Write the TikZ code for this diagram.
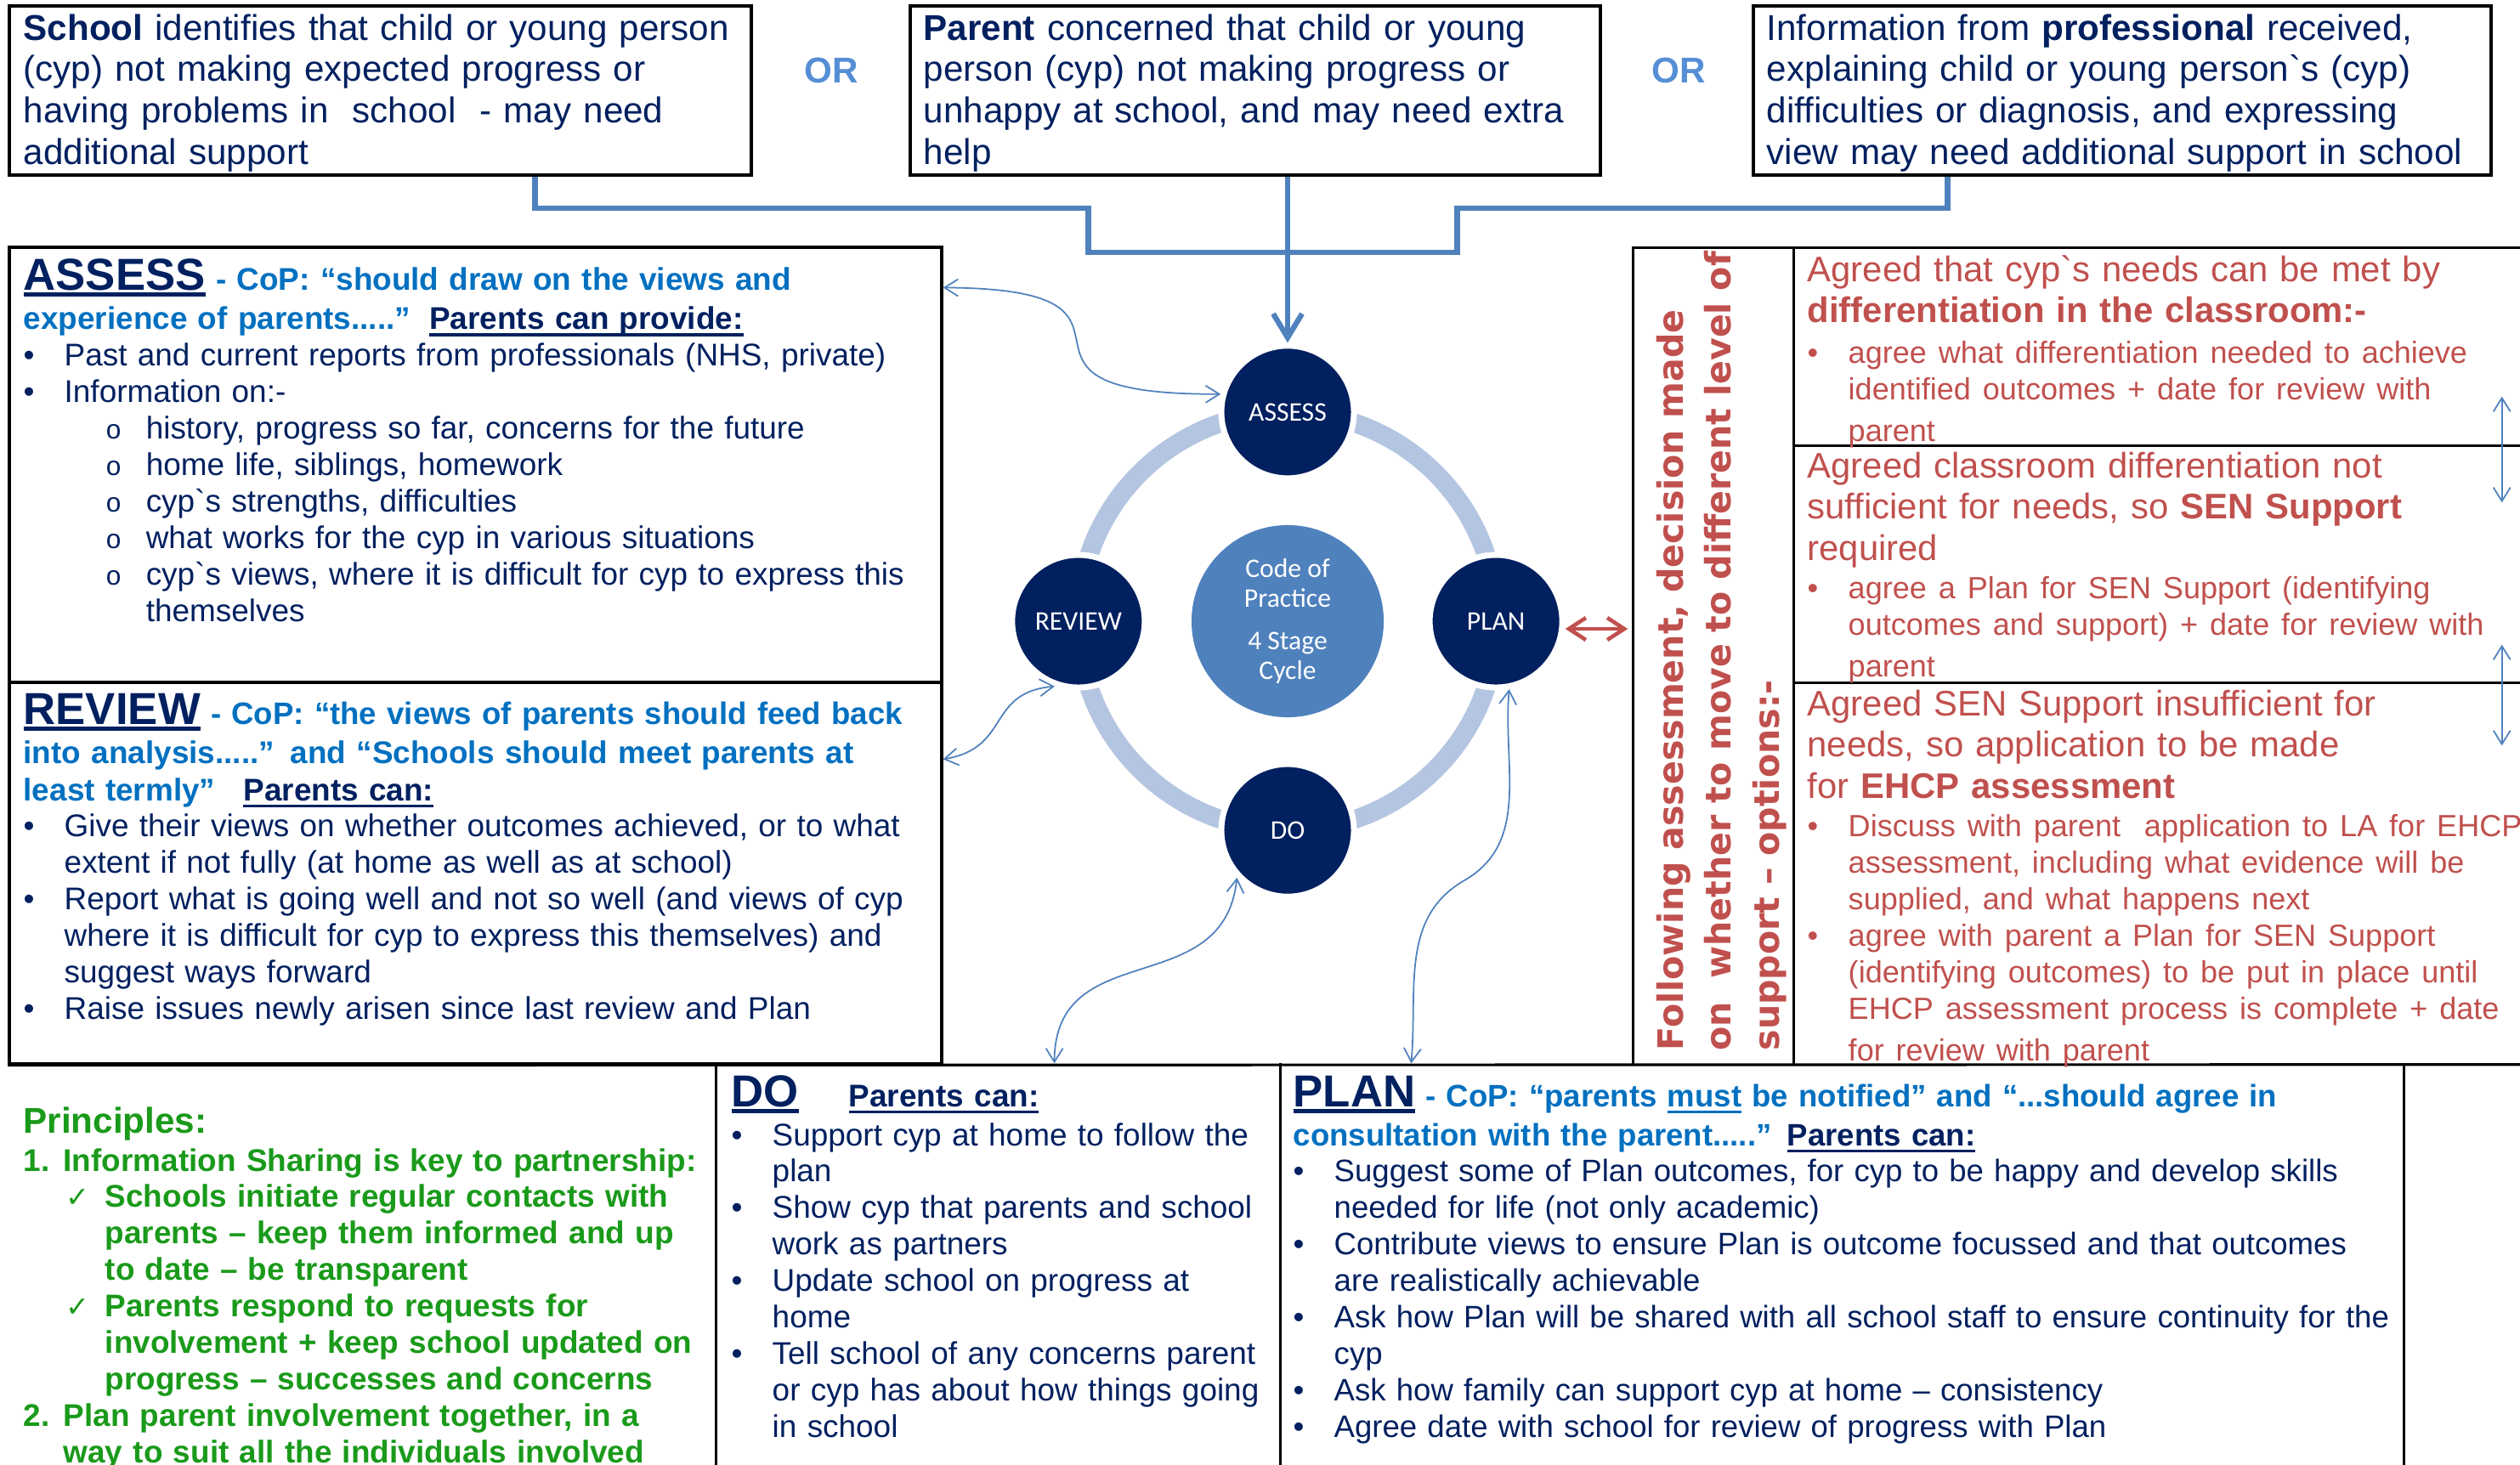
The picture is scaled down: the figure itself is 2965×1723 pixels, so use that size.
\documentclass[tikz,border=0pt]{standalone}
\usepackage{fontspec}
\setmainfont{Liberation Sans}
\newfontfamily\stagefont{Carlito}
\newfontfamily\sidefont{DejaVu Sans}
\usetikzlibrary{arrows.meta,fit}

\definecolor{navy}{HTML}{002060}
\definecolor{copblue}{HTML}{0070C0}
\definecolor{linkblue}{HTML}{4F81BD}
\definecolor{ringblue}{HTML}{B4C5E1}
\definecolor{optred}{HTML}{C0504D}
\definecolor{prgreen}{HTML}{1A9A1A}
\definecolor{orblue}{HTML}{558ED5}

\newcommand{\topsize}{\fontsize{12}{13.9}\selectfont}
\newcommand{\optsize}{\fontsize{11.9}{13.9}\selectfont}
\newcommand{\bodysize}{\fontsize{10.5}{12.2}\selectfont}
\newcommand{\plansize}{\fontsize{10.4}{12.2}\selectfont}
\newcommand{\optbodysize}{\fontsize{10.25}{12.2}\selectfont}
\newcommand{\headsize}{\fontsize{15}{15}\selectfont}
\newcommand{\bq}{\textasciigrave}
\newcommand{\undl}[2][0.9pt]{\setbox0\hbox{#2}\rlap{\rule[-2.2pt]{\wd0}{#1}}\box0\relax}
\newcommand{\bul}{\makebox[0.48cm][l]{•}}
\newcommand{\contline}{\hspace*{0.48cm}}
\newcommand{\subul}{\hspace*{0.97cm}\makebox[0.47cm][l]{\fontsize{9}{9}\selectfont o}}
\newcommand{\tick}{\hspace*{0.5cm}\makebox[0.46cm][l]{\sidefont\fontsize{9.5}{9.5}\selectfont ✓}}

\tikzset{
  frame/.style={draw=black, line width=0.9pt, inner sep=0pt},
  region/.style={inner sep=0pt},
  divider/.style={line width=0.9pt},
  txt/.style={anchor=base west, inner sep=0pt, align=left, text width=#1},
  txt/.default=10cm,
  ortext/.style={text=orblue, font=\bfseries\fontsize{12}{14}\selectfont},
  cop/.style={circle, fill=linkblue, minimum size=2.26cm, inner sep=0pt,
    align=center, text=white, font=\stagefont\fontsize{9}{10}\selectfont},
  stage/.style={circle, fill=navy, draw=white, line width=2pt, minimum size=1.56cm,
    inner sep=0pt, text=white, font=\stagefont\fontsize{9}{10}\selectfont},
  ring/.style={draw=ringblue, line width=6.3pt},
  feed/.style={draw=linkblue, line width=1.8pt},
  feedarrow/.style={feed, -{Straight Barb[length=2.8mm,width=3.4mm]}},
  link/.style={draw=linkblue, line width=0.5pt, <->, >={Straight Barb[length=1.6mm,width=2mm]}},
  redlink/.style={draw=optred, line width=1.3pt, <->, >={Straight Barb[length=2mm,width=2.6mm]}}
}

\begin{document}
\begin{tikzpicture}[x=0.01cm, y=-0.01cm]
  \useasboundingbox (0,0) rectangle (2965,1723);
  % starting points
  \node[frame, line width=1pt, fit={(11,7) (884,206)}] (schoolbox) {};
  \node[frame, line width=1pt, fit={(1071,7) (1883,206)}] (parentbox) {};
  \node[frame, line width=1pt, fit={(2063,7) (2931,206)}] (profbox) {};
  \node[txt, text=navy, font=\topsize] (schooltext) at (27,47)
    {\textbf{School} identifies that child or young person\\
     (cyp) not making expected progress or\\
     having problems in\ \ school\ \ - may need\\
     additional support};
  \node[txt, text=navy, font=\topsize] (parenttext) at (1086,47)
    {\textbf{Parent} concerned that child or young\\
     person (cyp) not making progress or\\
     unhappy at school, and may need extra\\
     help};
  \node[txt, text=navy, font=\topsize] (proftext) at (2078,47)
    {Information from \textbf{professional} received,\\
     explaining child or young person\bq s (cyp)\\
     difficulties or diagnosis, and expressing\\
     view may need additional support in school};
  \node[ortext] (or1) at (978,83) {OR};
  \node[ortext] (or2) at (1975,83) {OR};

  % regions
  \node[frame, fit={(11,291) (1108,803)}] (assessbox) {};
  \node[frame, fit={(11,803) (1108,1252)}] (reviewbox) {};
  \node[region, fit={(1922,292) (2965,1252)}] (optbox) {};
  \node[region, fit={(2111,292) (2965,524)}] (opt1) {};
  \node[region, fit={(2111,524) (2965,803)}] (opt2) {};
  \node[region, fit={(2111,803) (2965,1252)}] (opt3) {};
  \node[region, fit={(843,1252) (1506,1723)}] (dobox) {};
  \node[region, fit={(1506,1252) (2828,1723)}] (planbox) {};
  % frame lines
  \draw[divider] (optbox.north east) -- (optbox.north west) -- (optbox.south west);
  \draw[divider] (opt1.north west) -- (opt3.south west);
  \draw[divider] (opt1.south west) -- (opt1.south east);
  \draw[divider] (opt2.south west) -- (opt2.south east);
  \draw[divider] (reviewbox.south west) -- (optbox.south east);
  \draw[divider] (dobox.north west) -- (dobox.south west);
  \draw[divider] (dobox.north east) -- (dobox.south east);
  \draw[divider] (planbox.north east) -- (planbox.south east);

  % the cycle
  \node[cop] (cop) at (1515,731) {Code of\\Practice\\[4.2pt]4 Stage\\Cycle};
  \draw[ring] (cop.center) circle (2.46cm);
  \node[stage] (assessstep) at ([yshift=2.46cm]cop.center) {ASSESS};
  \node[stage] (planstep) at ([xshift=2.45cm]cop.center) {PLAN};
  \node[stage] (reviewstep) at ([xshift=-2.46cm]cop.center) {REVIEW};
  \node[stage] (dostep) at ([yshift=-2.46cm]cop.center) {DO};

  % inflow to ASSESS
  \draw[feed] ([xshift=6.2cm]schoolbox.south west) |- ++(651,37) |- ++(434,52)
        -- ++(0,-52) -| ([xshift=2.3cm]profbox.south west);
  \draw[feedarrow] (parentbox.south -| assessstep.north) -- (assessstep.north);

  % links between text and cycle
  \draw[link] ([yshift=-0.49cm]assessbox.north east)
        .. controls (1400,340) and (1130,465) .. (assessstep.165);
  \draw[link] ([yshift=-0.92cm]reviewbox.north east)
        .. controls (1190,880) and (1160,815) .. (reviewstep.250);
  \draw[link] ([xshift=3.98cm]dobox.north west)
        .. controls (1241,1100) and (1440,1180) .. (dostep.223);
  \coordinate (planbend) at (1723,1036);
  \draw[link] ([xshift=1.55cm]planbox.north west) to[out=85,in=-150] (planbend)
        to[out=30,in=-95] (planstep.281);
  \coordinate (planout) at ([yshift=-0.09cm]planstep.east);
  \draw[redlink, shorten >=0.06cm] (planout) -- (planout -| optbox.west);
  \draw[link] ([xshift=-0.22cm,yshift=0.58cm]opt1.south east)
        -- ([xshift=-0.22cm,yshift=-0.68cm]opt2.north east);
  \draw[link] ([xshift=-0.22cm,yshift=0.45cm]opt2.south east)
        -- ([xshift=-0.22cm,yshift=-0.75cm]opt3.north east);

  % ASSESS text
  \node[txt=10.9cm, text=navy, font=\bodysize] (assesstext) at (27,341)
    {\undl[1.4pt]{\headsize\bfseries ASSESS} {\bfseries\color{copblue}- CoP: “should draw on the views and}\\[1.1pt]
     {\bfseries\color{copblue}experience of parents.....”}\hspace{0.22cm}\undl{\bfseries Parents can provide:}\\
     \bul Past and current reports from professionals (NHS, private)\\
     \bul Information on:-\\
     \subul history, progress so far, concerns for the future\\
     \subul home life, siblings, homework\\
     \subul cyp\bq s strengths, difficulties\\
     \subul what works for the cyp in various situations\\
     \subul cyp\bq s views, where it is difficult for cyp to express this\\
     \hspace*{1.44cm}themselves};
  % REVIEW text
  \node[txt=10.9cm, text=navy, font=\bodysize] (reviewtext) at (27,852)
    {\undl[1.4pt]{\headsize\bfseries REVIEW} {\bfseries\color{copblue}\fontsize{10.4}{12.2}\selectfont- CoP: “the views of parents should feed back}\\[0.9pt]
     {\bfseries\color{copblue}into analysis.....” and “Schools should meet parents at}\\[0.3pt]
     {\bfseries\color{copblue}least termly”}\hspace{0.33cm}\undl{\bfseries Parents can:}\\
     \bul Give their views on whether outcomes achieved, or to what\\
     \contline extent if not fully (at home as well as at school)\\
     \bul Report what is going well and not so well (and views of cyp\\
     \contline where it is difficult for cyp to express this themselves) and\\
     \contline suggest ways forward\\
     \bul Raise issues newly arisen since last review and Plan};
  % principles
  \node[txt=9cm, text=prgreen, font=\bfseries\fontsize{10.5}{12.2}\selectfont] (principles) at (27,1333)
    {{\fontsize{12}{12}\selectfont Principles:}\\[0.6pt]
     \makebox[0.47cm][l]{1.}Information Sharing is key to partnership:\\
     \tick Schools initiate regular contacts with\\
     \hspace*{0.96cm}parents – keep them informed and up\\
     \hspace*{0.96cm}to date – be transparent\\
     \tick Parents respond to requests for\\
     \hspace*{0.96cm}involvement + keep school updated on\\
     \hspace*{0.96cm}progress – successes and concerns\\
     \makebox[0.47cm][l]{2.}Plan parent involvement together, in a\\
     \hspace*{0.47cm}way to suit all the individuals involved};
  % DO text
  \node[txt=7cm, text=navy, font=\bodysize] (dotext) at (860,1302)
    {\makebox[1.38cm][l]{\undl[1.4pt]{\headsize\bfseries DO}}\undl{\bfseries Parents can:}\\[0.9pt]
     \bul Support cyp at home to follow the\\
     \contline plan\\
     \bul Show cyp that parents and school\\
     \contline work as partners\\
     \bul Update school on progress at\\
     \contline home\\
     \bul Tell school of any concerns parent\\
     \contline or cyp has about how things going\\
     \contline in school};
  % PLAN text
  \node[txt=13.5cm, text=navy, font=\plansize] (plantext) at (1521,1302)
    {\undl[1.4pt]{\headsize\bfseries PLAN} {\bfseries\color{copblue}- CoP: “parents \undl{must} be notified” and “...should agree in}\\[0.9pt]
     {\bfseries\color{copblue}consultation with the parent.....”} \undl{\bfseries Parents can:}\\
     \bul Suggest some of Plan outcomes, for cyp to be happy and develop skills\\
     \contline needed for life (not only academic)\\
     \bul Contribute views to ensure Plan is outcome focussed and that outcomes\\
     \contline are realistically achievable\\
     \bul Ask how Plan will be shared with all school staff to ensure continuity for the\\
     \contline cyp\\
     \bul Ask how family can support cyp at home – consistency\\
     \bul Agree date with school for review of progress with Plan};

  % options
  \node[txt=11cm, rotate=90, text=optred, font=\sidefont\bfseries\fontsize{11.7}{16.2}\selectfont] (sidetext) at (1980,1237)
    {Following assessment, decision made\\
     on\ \ whether to move to different level of\\
     support – options:-};
  \node[txt=9cm, text=optred, font=\optsize] (opt1text) at (2126,331)
    {Agreed that cyp\bq s needs can be met by\\
     \textbf{differentiation in the classroom:-}\par\vspace{1.4pt}
     \optbodysize
     \bul agree what differentiation needed to achieve\\
     \contline identified outcomes + date for review with\\
     \contline parent};
  \node[txt=9cm, text=optred, font=\optsize] (opt2text) at (2126,562)
    {Agreed classroom differentiation not\\
     sufficient for needs, so \textbf{SEN Support}\\
     required\par\vspace{0.6pt}
     \optbodysize
     \bul agree a Plan for SEN Support (identifying\\
     \contline outcomes and support) + date for review with\\
     \contline parent};
  \node[txt=9cm, text=optred, font=\optsize] (opt3text) at (2126,842)
    {Agreed SEN Support insufficient for\\
     needs, so application to be made\\
     for \textbf{EHCP assessment}\par\vspace{0.6pt}
     \optbodysize
     \bul Discuss with parent\ \ application to LA for EHCP\\
     \contline assessment, including what evidence will be\\
     \contline supplied, and what happens next\\
     \bul agree with parent a Plan for SEN Support\\
     \contline (identifying outcomes) to be put in place until\\
     \contline EHCP assessment process is complete + date\\
     \contline for review with parent};
\end{tikzpicture}
\end{document}
